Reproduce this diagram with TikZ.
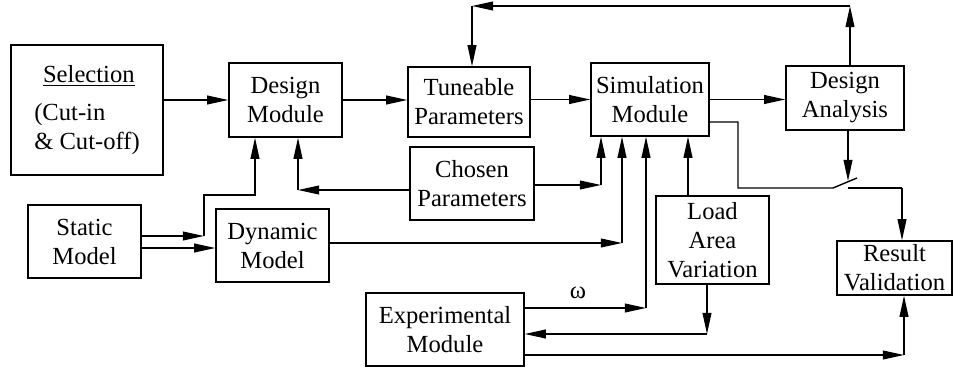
\documentclass[tikz,border=0pt]{standalone}
\usepackage{fontspec}
\setmainfont{Liberation Serif}
\usetikzlibrary{arrows.meta}

\begin{document}
\begin{tikzpicture}[x=0.02cm, y=-0.02cm,
block/.style={draw, line width=0.8pt, align=center, inner sep=2pt, font=\fontsize{14}{16.5}\selectfont},
arrow/.style={-{Triangle[length=12pt, width=5pt]}, line width=0.8pt},
wire/.style={line width=0.8pt}
]
\useasboundingbox (0,0) rectangle (953,368);
\node[block, align=left, minimum width=3.04cm, minimum height=2.6cm] (sel) at (87,110) {\hspace*{5pt}\underline{Selection}\\[5pt](Cut-in\\\& Cut-off)};
\node[block, minimum width=2.26cm, minimum height=1.48cm] (design) at (285.5,100) {Design\\Module};
\node[block, minimum width=2.44cm, minimum height=1.40cm] (tune) at (469,102) {Tuneable\\Parameters};
\node[block, minimum width=2.48cm, minimum height=1.46cm] (chosen) at (472,183.5) {Chosen\\Parameters};
\node[block, minimum width=2.36cm, minimum height=1.46cm] (sim) at (650,99.5) {Simulation\\Module};
\node[block, minimum width=2.36cm, minimum height=1.28cm] (analysis) at (845,98) {Design\\Analysis};
\node[block, minimum width=2.26cm, minimum height=1.46cm] (static) at (84.5,241.5) {Static\\Model};
\node[block, minimum width=2.26cm, minimum height=1.46cm] (dynamic) at (272.5,245.5) {Dynamic\\Model};
\node[block, minimum width=3.16cm, minimum height=1.46cm] (expt) at (445,329.5) {Experimental\\Module};
\node[block, minimum width=2.26cm, minimum height=1.76cm] (load) at (712.5,240) {Load\\Area\\Variation};
\node[block, minimum width=2.30cm, minimum height=1.08cm] (result) at (894.5,268) {Result\\Validation};
\node[font=\fontsize{14}{16.5}\selectfont] (omega) at (578,293) {ω};

\coordinate (fbR) at (850,6);
\coordinate (fbL) at (472,6);
\coordinate (stJ) at (204,236);
\coordinate (dmA) at (255,195);
\coordinate (stB) at (141,248);
\coordinate (cpL) at (298,190);
\coordinate (cpR) at (601,185);
\coordinate (dynR) at (622,243);
\coordinate (exR) at (646,308);
\coordinate (lvU) at (688,196);
\coordinate (lavD) at (707,334);
\coordinate (rvB) at (904,355);
\coordinate (swIn) at (738,122);
\coordinate (swA) at (833,188);
\coordinate (swB) at (857,178);
\coordinate (swC) at (848,188);
\coordinate (swT) at (848,181);
\coordinate (rvT) at (902,188);

\draw[arrow] (sel.east |- design.west) -- (design.west);
\draw[arrow] (design.east) -- (design.east -| tune.west);
\draw[arrow] (tune.east |- sim.west) -- (sim.west);
\draw[arrow] (sim.east) -- (sim.east -| analysis.west);

\draw[arrow] (fbR |- analysis.north) -- (fbR);
\draw[arrow] (fbR) -- (fbL);
\draw[arrow] (fbL) -- (fbL |- tune.north);

\draw[arrow] (static.east |- stJ) -- (stJ);
\draw[arrow] (stJ) |- (dmA) -- (dmA |- design.south);
\draw[arrow] (stB) -- (stB -| dynamic.west);

\draw[arrow] (chosen.west |- cpL) -- (cpL);
\draw[arrow] (cpL) -- (cpL |- design.south);
\draw[arrow] (chosen.east |- cpR) -- (cpR);
\draw[arrow] (cpR) -- (cpR |- sim.south);

\draw[arrow] (dynamic.east |- dynR) -- (dynR);
\draw[arrow] (dynR) -- (dynR |- sim.south);
\draw[arrow] (expt.east |- exR) -- (exR);
\draw[arrow] (exR) -- (exR |- sim.south);
\draw[arrow] (lvU) -- (lvU |- sim.south);

\draw[arrow] (lavD |- load.south) -- (lavD);
\draw[arrow] (lavD) -- (lavD -| expt.east);
\draw[arrow] (expt.east |- rvB) -- (rvB);
\draw[arrow] (rvB) -- (rvB |- result.south);

\draw[wire] (sim.east |- swIn) -- (swIn) |- (swA) -- (swB);
\draw[arrow] (swC |- analysis.south) -- (swT);
\draw[wire] (swC) -- (rvT);
\draw[arrow] (rvT) -- (rvT |- result.north);
\end{tikzpicture}
\end{document}
